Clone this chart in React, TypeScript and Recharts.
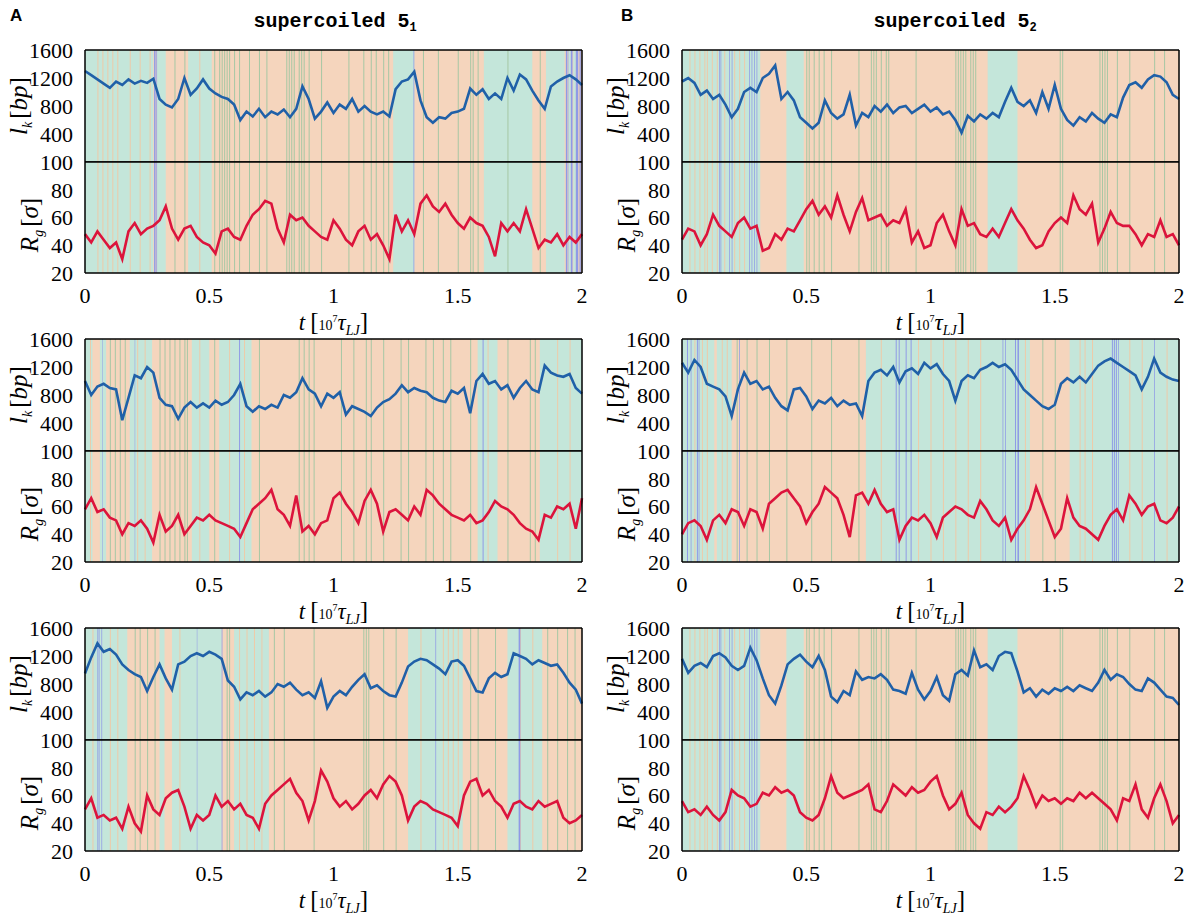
import React from "react";
import { LineChart, Line, XAxis, YAxis, ReferenceArea } from "recharts";

// time grid (10^7 tau_LJ)
const T = [
  0, 0.025, 0.05, 0.075, 0.1, 0.125, 0.15, 0.175, 0.2, 0.225,
  0.25, 0.275, 0.3, 0.325, 0.35, 0.375, 0.4, 0.425, 0.45, 0.475,
  0.5, 0.525, 0.55, 0.575, 0.6, 0.625, 0.65, 0.675, 0.7, 0.725,
  0.75, 0.775, 0.8, 0.825, 0.85, 0.875, 0.9, 0.925, 0.95, 0.975,
  1, 1.025, 1.05, 1.075, 1.1, 1.125, 1.15, 1.175, 1.2, 1.225,
  1.25, 1.275, 1.3, 1.325, 1.35, 1.375, 1.4, 1.425, 1.45, 1.475,
  1.5, 1.525, 1.55, 1.575, 1.6, 1.625, 1.65, 1.675, 1.7, 1.725,
  1.75, 1.775, 1.8, 1.825, 1.85, 1.875, 1.9, 1.925, 1.95, 1.975, 2,
];

// knot length l_k [bp] and radius of gyration R_g [sigma]
const a1Lk = [1300,1240,1180,1120,1060,1150,1100,1180,1120,1160,1130,1190,900,820,780,900,1200,960,1050,1180,1050,980,930,900,820,600,720,650,760,640,720,680,750,640,760,1080,900,620,720,850,700,820,760,900,720,800,720,680,720,650,1040,1150,1180,1290,880,640,560,640,620,700,720,760,1050,960,1040,900,980,900,1200,1020,1250,1180,1020,880,760,1080,1150,1200,1240,1180,1100];
const a1Rg = [48,42,50,44,38,42,30,50,56,48,52,54,58,68,52,44,52,54,46,42,40,34,50,52,46,44,54,62,66,72,70,52,42,62,58,60,54,50,46,44,58,52,44,40,50,54,44,48,40,30,62,50,58,48,70,76,68,64,70,62,56,52,60,56,54,46,32,56,50,56,50,66,52,38,44,42,48,40,46,42,48];
const b1Lk = [1150,1200,1130,960,1020,900,960,820,640,760,1000,1060,1000,1200,1260,1380,900,1000,880,640,560,480,560,880,700,620,680,960,520,700,640,800,720,820,700,780,800,700,760,820,720,780,680,720,600,420,660,580,680,620,700,640,860,1060,860,800,880,700,1000,760,1100,760,600,520,640,580,700,620,560,680,640,920,1100,1140,1060,1180,1240,1220,1140,960,900];
const b1Rg = [44,52,50,40,48,62,54,50,46,56,60,52,54,36,38,48,44,52,50,58,66,72,62,68,60,76,62,50,64,74,58,60,62,54,58,56,66,42,50,38,40,56,62,50,40,66,54,56,48,46,52,46,56,66,58,52,44,38,40,50,56,60,56,76,66,62,70,42,52,64,56,54,54,48,40,48,46,58,46,48,40];
const a2Lk = [1000,800,920,960,900,880,440,760,1080,1040,1200,1120,760,660,640,460,620,700,620,680,620,720,660,700,800,960,640,560,640,600,660,620,800,760,840,1040,880,820,640,820,760,840,520,640,600,560,500,620,700,740,820,940,840,900,860,840,760,720,700,860,820,900,540,1000,1100,960,1000,880,940,760,900,1000,880,840,1220,1120,1080,1060,1100,900,820];
const a2Rg = [58,66,56,58,52,50,40,48,46,50,44,34,54,42,46,54,40,46,52,50,54,50,48,46,44,38,48,58,62,66,72,58,54,46,68,42,46,40,48,50,66,70,62,56,48,64,72,62,42,56,58,54,50,60,54,72,68,62,58,54,52,50,54,48,50,56,64,60,58,54,48,44,42,36,54,52,60,58,62,44,66];
const b2Lk = [1260,1120,1300,1200,960,920,880,780,500,880,1120,960,1000,880,920,760,640,580,880,900,780,600,720,680,760,640,720,660,680,500,1000,1120,1160,1080,1200,980,1140,1180,1100,1260,1180,1240,1100,1000,720,1000,1080,1040,1160,1200,1260,1200,1240,1160,1020,880,800,720,640,600,660,960,1040,980,1060,980,1100,1220,1280,1320,1260,1200,1140,1080,880,1060,1320,1120,1060,1020,1000];
const b2Rg = [40,48,50,46,36,50,54,48,58,56,46,58,56,44,62,66,70,72,66,60,48,56,62,74,70,66,54,38,68,70,62,72,62,56,58,36,46,52,50,54,48,38,52,56,60,58,54,52,64,58,50,46,52,36,44,50,58,74,62,50,38,44,66,52,46,44,40,36,46,54,58,50,68,62,54,60,62,50,48,52,60];
const a3Lk = [950,1180,1380,1260,1300,1220,1080,1000,940,900,700,900,1080,880,720,1080,1120,1200,1240,1200,1260,1220,1160,850,760,580,680,640,700,620,680,800,760,820,720,640,680,600,840,460,620,700,640,760,860,940,740,780,700,640,620,820,1050,1120,1160,1140,1080,1020,940,1120,1140,1060,880,700,680,880,960,900,940,1240,1200,1160,1080,1140,1100,1060,1080,960,820,720,520];
const a3Rg = [50,58,44,46,42,44,36,52,40,34,60,50,46,58,62,64,52,36,46,42,46,60,52,56,50,54,46,44,36,54,60,64,68,72,62,56,42,56,78,70,58,52,56,50,54,60,64,58,68,74,70,60,42,52,56,54,50,48,46,44,38,60,70,72,60,64,56,52,44,54,56,52,50,56,52,54,56,44,40,42,46];
const b3Lk = [1160,960,1060,1100,1040,1200,1240,1180,1060,1000,1060,1320,1140,880,640,520,780,1080,1160,1220,1120,1040,1200,1000,620,540,700,640,980,860,900,880,940,860,720,700,660,960,720,580,700,900,640,560,940,1000,920,1280,1040,1080,1000,1200,1260,1240,980,680,740,620,720,660,740,700,760,700,780,740,700,820,1000,860,940,900,800,720,700,880,820,720,620,600,500];
const b3Rg = [56,48,50,46,52,46,42,48,64,60,58,52,54,62,60,66,62,64,60,48,44,42,46,58,74,62,58,60,62,64,68,50,48,56,68,64,60,66,62,64,70,74,60,50,54,62,46,40,36,48,46,52,48,52,58,74,64,52,60,56,58,54,58,56,62,58,62,58,54,50,42,58,56,68,50,44,58,68,56,40,46];

// state intervals behind each run: green = one topology, rest orange, blue = another
type Band = [number, number];
const a1Green: Band[] = [[0, 0.275], [0.29, 0.325], [0.415, 0.51], [1.24, 1.325], [1.605, 1.8], [1.855, 1.93], [1.945, 1.955], [1.965, 1.975]];
const a1Blue: Band[] = [[0.278, 0.284], [0.287, 0.29], [1.322, 1.325], [1.935, 1.94], [1.942, 1.945], [1.955, 1.962], [1.975, 1.985], [1.99, 1.995]];
const a1GreenLines = [0.36, 0.4, 0.52, 0.54, 0.55, 0.56, 0.57, 0.58, 0.6, 0.62, 0.66, 0.7, 0.73, 0.81, 0.82, 0.83, 0.84, 0.86, 0.87, 0.88, 0.9, 0.95, 1.06, 1.12, 1.15, 1.17, 1.2, 1.22, 1.36, 1.42, 1.5, 1.55, 1.56, 1.58, 1.7, 1.83];
const a1OrangeLines = [0.05, 0.07, 0.09, 0.11, 0.13, 0.18, 0.22, 0.26, 0.46];

const b1Green: Band[] = [[0, 0.315], [0.42, 0.49], [1.23, 1.35]];
const b1Blue: Band[] = [[0.15, 0.153], [0.155, 0.158], [0.19, 0.193], [0.2, 0.203], [0.27, 0.273], [0.28, 0.283], [0.29, 0.293], [0.3, 0.303]];
const b1GreenLines = [0.5, 0.51, 0.53, 0.55, 0.57, 0.6, 0.71, 0.76, 0.77, 0.78, 0.8, 0.82, 0.83, 0.94, 1.1, 1.11, 1.12, 1.13, 1.14, 1.16, 1.17, 1.18, 1.52, 1.53, 1.68, 1.69, 1.7, 1.71, 1.75, 1.8, 1.9, 1.94];
const b1OrangeLines = [0.03, 0.05, 0.07, 0.09, 0.1, 0.12, 0.14, 0.17, 0.21, 0.23, 0.25];

const a2Green: Band[] = [[0, 0.03], [0.06, 0.085], [0.18, 0.27], [0.43, 0.5], [0.54, 0.67], [1.58, 1.66], [1.83, 2]];
const a2Blue: Band[] = [[0.62, 0.624], [1.6, 1.604], [0.2, 0.202], [0.07, 0.072]];
const a2GreenLines = [0.1, 0.12, 0.14, 0.16, 0.3, 0.32, 0.34, 0.36, 0.38, 0.4, 0.41, 0.52, 0.7, 0.86, 0.88, 0.9, 0.92, 1.03, 1.08, 1.13, 1.15, 1.2, 1.27, 1.3, 1.37, 1.4, 1.44, 1.47, 1.55, 1.7, 1.79, 1.81];
const a2OrangeLines = [0.02, 0.21, 0.24, 0.46, 0.58, 0.64, 1.62, 1.9, 1.95];

const b2Green: Band[] = [[0, 0.13], [0.14, 0.2], [0.74, 1.4], [1.56, 2]];
const b2Blue: Band[] = [[0.02, 0.024], [0.035, 0.038], [0.06, 0.064], [0.067, 0.07], [0.23, 0.233], [0.86, 0.864], [0.872, 0.876], [0.9, 0.904], [0.92, 0.924], [1.29, 1.293], [1.3, 1.303], [1.34, 1.344], [1.35, 1.356], [1.73, 1.734], [1.738, 1.742], [1.746, 1.75], [1.755, 1.758], [1.9, 1.903]];
const b2GreenLines = [0.22, 0.26, 0.3, 0.35, 0.42, 0.52, 0.6, 0.71, 1.45, 1.5];
const b2OrangeLines = [0.05, 0.08, 0.1, 0.16, 0.18, 0.8, 0.95, 1.0, 1.05, 1.1, 1.15, 1.2, 1.38, 1.6, 1.62, 1.65, 1.8, 1.85, 1.95];

const a3Green: Band[] = [[0, 0.17], [0.3, 0.32], [0.35, 0.55], [0.6, 0.74], [1.3, 1.52], [1.7, 1.84]];
const a3Blue: Band[] = [[0.05, 0.054], [0.058, 0.06], [0.066, 0.069], [0.45, 0.452], [0.55, 0.553], [1.41, 1.413], [1.745, 1.752]];
const a3GreenLines = [0.2, 0.22, 0.25, 0.28, 0.57, 0.58, 0.76, 0.8, 0.92, 1.12, 1.13, 1.14, 1.2, 1.25, 1.55, 1.58, 1.65, 1.86, 1.9, 1.94, 1.97];
const a3OrangeLines = [0.03, 0.1, 0.13, 0.38, 0.62, 0.65, 0.68, 0.71, 1.35, 1.44, 1.46, 1.48, 1.5, 1.75, 1.8];

const X_TICKS = [0, 0.5, 1, 1.5, 2];
const LK_LABEL_TICKS = [400, 800, 1200, 1600];
const LK_INNER_TICKS = [400, 800, 1200];
const RG_LABEL_TICKS = [20, 40, 60, 80, 100];
const RG_INNER_TICKS = [40, 60, 80];

const GREEN = "#c4e6da";
const ORANGE = "#f5d5bd";
const BLUE = "#8f9ae6";
const LINE_G = "#a6c7a4";
const LINE_O = "#eecaa8";
const BLUE_LINE = "#2060a8";
const RED_LINE = "#dc143c";
const SERIF = "'Liberation Serif', 'DejaVu Serif', serif";

const PLOT_W = 497;
const UP_H = 112;
const LO_H = 111;
const YW = 75;
const TM = 14;
const RM = 8;

interface Bg {
  green: Band[];
  blue: Band[];
  greenLines: number[];
  orangeLines: number[];
}

function backdrop(bg: Bg) {
  const common = { xAxisId: "m", yAxisId: "m", fillOpacity: 1, stroke: "none" };
  const els = [<ReferenceArea key="o" {...common} x1={0} x2={2} fill={ORANGE} />];
  bg.green.forEach(([a, b], i) => els.push(<ReferenceArea key={"g" + i} {...common} x1={a} x2={b} fill={GREEN} />));
  bg.greenLines.forEach((p, i) => els.push(<ReferenceArea key={"gl" + i} {...common} x1={p} x2={p + 0.004} fill={LINE_G} />));
  bg.orangeLines.forEach((p, i) => els.push(<ReferenceArea key={"ol" + i} {...common} x1={p} x2={p + 0.004} fill={LINE_O} />));
  bg.blue.forEach(([a, b], i) => els.push(<ReferenceArea key={"b" + i} {...common} x1={a} x2={b} fill={BLUE} />));
  return els;
}

const frame = { stroke: "#000", strokeWidth: 1.5 };
const tickLn = { stroke: "#333", strokeWidth: 1 };
const tickFont = { fontSize: 22, fontFamily: SERIF, fill: "#000" };

interface SubProps {
  left: number;
  top: number;
  data: { t: number; lk: number; rg: number }[];
  lower: boolean;
  bg: Bg;
}

function Subplot({ left, top, data, lower, bg }: SubProps) {
  const h = lower ? LO_H : UP_H;
  const xh = lower ? 48 : 0;
  const bm = lower ? 0 : 4;
  const key = lower ? "rg" : "lk";
  const domain: [number, number] = lower ? [20, 100] : [0, 1600];
  const inner = lower ? RG_INNER_TICKS : LK_INNER_TICKS;
  return (
    <div style={{ position: "absolute", left: left - YW, top: top - TM }}>
      <LineChart
        width={YW + PLOT_W + RM}
        height={TM + h + xh + bm}
        data={data}
        margin={{ top: TM, right: RM, bottom: bm, left: 0 }}
      >
        <XAxis xAxisId="m" dataKey="t" type="number" domain={[0, 2]} ticks={X_TICKS} orientation="bottom" mirror tick={false} tickSize={5} axisLine={frame} tickLine={tickLn} />
        <XAxis xAxisId="top" dataKey="t" type="number" domain={[0, 2]} ticks={X_TICKS} orientation="top" mirror tick={false} tickSize={5} axisLine={frame} tickLine={tickLn} />
        {lower && (
          <XAxis xAxisId="lab" dataKey="t" type="number" domain={[0, 2]} ticks={X_TICKS} orientation="bottom" height={xh} tickLine={false} tickSize={0} tickMargin={14} axisLine={false} tick={tickFont} />
        )}
        <YAxis yAxisId="m" dataKey={key} type="number" domain={domain} allowDataOverflow ticks={inner} orientation="left" mirror tick={false} tickSize={5} axisLine={frame} tickLine={tickLn} />
        <YAxis yAxisId="r" dataKey={key} type="number" domain={domain} allowDataOverflow ticks={inner} orientation="right" mirror tick={false} tickSize={5} axisLine={frame} tickLine={tickLn} />
        <YAxis yAxisId="lab" dataKey={key} type="number" domain={domain} allowDataOverflow ticks={lower ? RG_LABEL_TICKS : LK_LABEL_TICKS} orientation="left" width={YW} tickLine={false} tickSize={0} tickMargin={12} axisLine={false} tick={tickFont} interval={0} />
        {backdrop(bg)}
        <Line
          xAxisId="m"
          yAxisId="m"
          type="linear"
          dataKey={key}
          stroke={lower ? RED_LINE : BLUE_LINE}
          strokeWidth={2.6}
          dot={false}
          isAnimationActive={false}
        />
      </LineChart>
    </div>
  );
}

const COL_X = [85, 682];
const ROW_Y = [50, 339, 628];

const panels = [
  { col: 0, row: 0, lk: a1Lk, rg: a1Rg, bg: { green: a1Green, blue: a1Blue, greenLines: a1GreenLines, orangeLines: a1OrangeLines } },
  { col: 1, row: 0, lk: b1Lk, rg: b1Rg, bg: { green: b1Green, blue: b1Blue, greenLines: b1GreenLines, orangeLines: b1OrangeLines } },
  { col: 0, row: 1, lk: a2Lk, rg: a2Rg, bg: { green: a2Green, blue: a2Blue, greenLines: a2GreenLines, orangeLines: a2OrangeLines } },
  { col: 1, row: 1, lk: b2Lk, rg: b2Rg, bg: { green: b2Green, blue: b2Blue, greenLines: b2GreenLines, orangeLines: b2OrangeLines } },
  { col: 0, row: 2, lk: a3Lk, rg: a3Rg, bg: { green: a3Green, blue: a3Blue, greenLines: a3GreenLines, orangeLines: a3OrangeLines } },
  // the second 5_2 run shares the state sequence of the first
  { col: 1, row: 2, lk: b3Lk, rg: b3Rg, bg: { green: b1Green, blue: b1Blue, greenLines: b1GreenLines, orangeLines: b1OrangeLines } },
];

function XTitle({ cx, y }: { cx: number; y: number }) {
  return (
    <text x={cx} y={y} textAnchor="middle" fontFamily={SERIF} fontSize={23}>
      <tspan fontStyle="italic">t</tspan>
      <tspan dx={5} fontSize={25}>[</tspan>
      <tspan fontSize={14}>10</tspan>
      <tspan fontSize={10} dy={-8}>7</tspan>
      <tspan fontStyle="italic" dy={8}>τ</tspan>
      <tspan fontStyle="italic" fontSize={14} dy={5}>LJ</tspan>
      <tspan fontSize={25} dy={-5}>]</tspan>
    </text>
  );
}

function LkTitle({ x, y }: { x: number; y: number }) {
  return (
    <text transform={`translate(${x},${y}) rotate(-90)`} textAnchor="middle" fontFamily={SERIF} fontSize={25}>
      <tspan fontStyle="italic">l</tspan>
      <tspan fontStyle="italic" fontSize={14} dy={5}>k</tspan>
      <tspan dy={-5} dx={3}>[</tspan>
      <tspan fontStyle="italic">bp</tspan>
      <tspan>]</tspan>
    </text>
  );
}

function RgTitle({ x, y }: { x: number; y: number }) {
  return (
    <text transform={`translate(${x},${y}) rotate(-90)`} textAnchor="middle" fontFamily={SERIF} fontSize={25}>
      <tspan fontStyle="italic">R</tspan>
      <tspan fontStyle="italic" fontSize={14} dy={5}>g</tspan>
      <tspan dy={-5} dx={3}>[</tspan>
      <tspan fontStyle="italic">σ</tspan>
      <tspan>]</tspan>
    </text>
  );
}

export default function App() {
  return (
    <div style={{ position: "absolute", left: 0, top: 0, width: 1191, height: 917, background: "#fff", overflow: "hidden" }}>
      {panels.map((p, k) => {
        const data = T.map((t, i) => ({ t, lk: p.lk[i], rg: p.rg[i] }));
        const x = COL_X[p.col];
        const y = ROW_Y[p.row];
        return (
          <React.Fragment key={k}>
            <Subplot left={x} top={y} data={data} lower={false} bg={p.bg} />
            <Subplot left={x} top={y + UP_H} data={data} lower bg={p.bg} />
          </React.Fragment>
        );
      })}
      <svg width={1191} height={917} style={{ position: "absolute", left: 0, top: 0, pointerEvents: "none" }}>
        <text x={10} y={21} fontFamily="'Liberation Sans', Arial, sans-serif" fontWeight="bold" fontSize={17}>A</text>
        <text x={621} y={21} fontFamily="'Liberation Sans', Arial, sans-serif" fontWeight="bold" fontSize={17}>B</text>
        <text x={335} y={27} textAnchor="middle" fontFamily="'Liberation Mono', monospace" fontWeight="bold" fontSize={20}>
          supercoiled 5<tspan fontSize={12} dy={4}>1</tspan>
        </text>
        <text x={955} y={27} textAnchor="middle" fontFamily="'Liberation Mono', monospace" fontWeight="bold" fontSize={20}>
          supercoiled 5<tspan fontSize={12} dy={4}>2</tspan>
        </text>
        {ROW_Y.map((y, r) =>
          COL_X.map((x, c) => (
            <g key={`${r}-${c}`}>
              <LkTitle x={x - 58} y={y + 56} />
              <RgTitle x={x - 47} y={y + 175} />
              <XTitle cx={x + PLOT_W / 2} y={y + 280} />
            </g>
          ))
        )}
      </svg>
    </div>
  );
}
